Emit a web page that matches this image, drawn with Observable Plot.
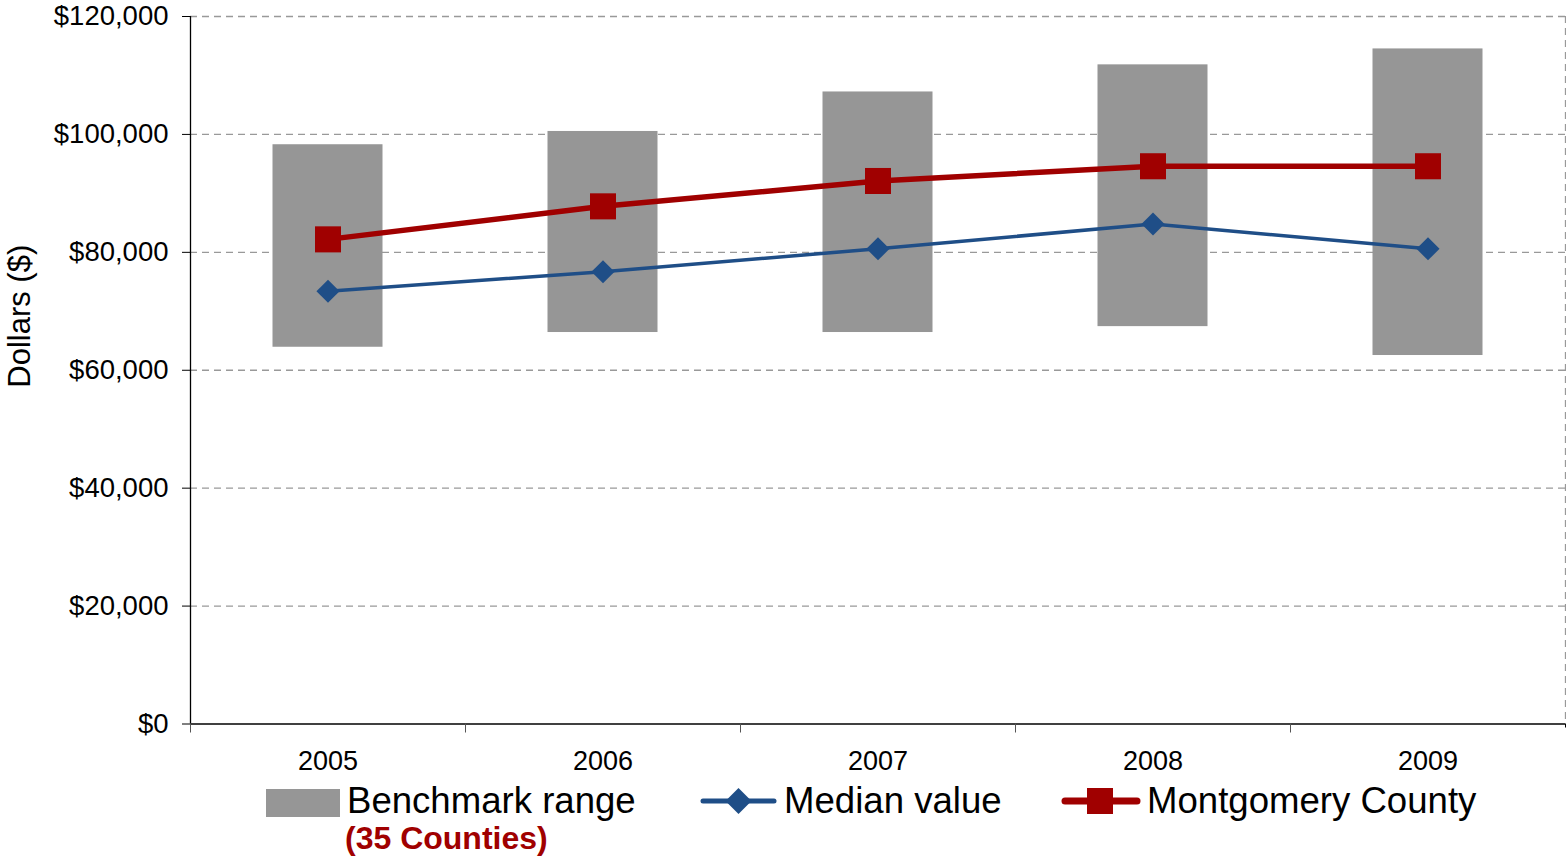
<!DOCTYPE html>
<html><head><meta charset="utf-8">
<script src="https://cdn.jsdelivr.net/npm/d3@7"></script>
<script src="https://cdn.jsdelivr.net/npm/@observablehq/plot@0.6"></script>
<style>
body{margin:0;background:#fff;font-family:"Liberation Sans",Arial,sans-serif;}
#wrap{position:relative;width:1566px;height:857px;overflow:hidden;}
#chart{position:absolute;left:0;top:0;}
.leg{position:absolute;font-size:36.6px;color:#000;white-space:nowrap;line-height:1;}
.note{position:absolute;font-size:32px;font-weight:bold;color:#a00000;white-space:nowrap;line-height:1;}
.sw{position:absolute;}
</style></head><body><div id="wrap"><div id="chart"></div></div>
<script>
const years = ["2005","2006","2007","2008","2009"];
const rangeLow = [63900, 66400, 66400, 67400, 62500];
const rangeHigh = [98250, 100500, 107200, 111800, 114500];
const medianValue = [73400, 76700, 80600, 84800, 80600];
const montgomery = [82200, 87800, 92100, 94600, 94600];
const yTicks = [0, 20000, 40000, 60000, 80000, 100000, 120000];
const yLabel = "Dollars ($)";
const legendLabels = ["Benchmark range", "Median value", "Montgomery County"];
const legendNote = "(35 Counties)";

const GRAY = "#969696", BLUE = "#1f4e87", RED = "#a00000";

const rows = years.map((y, i) => ({year: y, low: rangeLow[i], high: rangeHigh[i], median: medianValue[i], mont: montgomery[i]}));
const bw = (1565 - 190) / years.length;

const plot = Plot.plot({
  width: 1566, height: 780,
  marginLeft: 190, marginRight: 1, marginTop: 16, marginBottom: 56.5,
  style: {fontFamily: '"Liberation Sans", Arial, sans-serif', fontSize: "27px", color: "#000", background: "transparent", overflow: "visible"},
  x: {type: "band", domain: years, padding: 0},
  y: {domain: [0, 120000]},
  marks: [
    Plot.gridY(yTicks.filter(d => d > 0), {stroke: "#999", strokeOpacity: 1, strokeDasharray: "7,5", strokeWidth: 1.3}),
    Plot.ruleX([years[years.length - 1]], {dx: bw / 2, stroke: "#999", strokeDasharray: "7,5", strokeWidth: 1.3}),
    Plot.barY(rows, {x: "year", y1: "low", y2: "high", fill: GRAY, insetLeft: 82.5, insetRight: 82.5}),
    Plot.line(rows, {x: "year", y: "median", stroke: BLUE, strokeWidth: 3.5}),
    Plot.dot(rows, {x: "year", y: "median", symbol: "diamond2", r: 10.4, fill: BLUE, stroke: null}),
    Plot.line(rows, {x: "year", y: "mont", stroke: RED, strokeWidth: 5.5}),
    Plot.dot(rows, {x: "year", y: "mont", symbol: "square", r: 14.7, fill: RED, stroke: null}),
    Plot.ruleY([0], {stroke: "#000", strokeWidth: 1.3}),
    Plot.ruleX([years[0]], {dx: -bw / 2, stroke: "#000", strokeWidth: 1.3}),
    Plot.axisY({ticks: yTicks, tickFormat: d => "$" + d3.format(",")(d), tickSize: 8, tickPadding: 14, label: null, fontSize: 27.5, stroke: "#000"}),
    Plot.axisX({tickSize: 9, tickFormat: () => "", dx: -bw / 2, label: null, stroke: "#555"}),
    Plot.axisX({ticks: [years[years.length - 1]], tickSize: 4, tickFormat: () => "", dx: bw / 2, label: null, stroke: "#000"}),
    Plot.axisX({tickSize: 0, tickPadding: 27, label: null, fontSize: 27}),
    Plot.text([yLabel], {frameAnchor: "left", text: d => d, textAnchor: "middle", rotate: -90, dx: -170, dy: -54, fontSize: 31, fill: "#000"})
  ]
});
document.getElementById("chart").appendChild(plot);

// Legend (HTML below the plot area)
const wrap = document.getElementById("wrap");
function add(html) { const t = document.createElement("div"); t.innerHTML = html; const el = t.firstElementChild; wrap.appendChild(el); return el; }
add(`<div class="sw" style="left:266px;top:789px;width:74px;height:28px;background:${GRAY}"></div>`);
add(`<div class="leg" style="left:347px;top:783px">${legendLabels[0]}</div>`);
add(`<div class="note" style="left:345px;top:822px">${legendNote}</div>`);
add(`<svg class="sw" style="left:699px;top:786px" width="80" height="30"><line x1="4" y1="15" x2="75" y2="15" stroke="${BLUE}" stroke-width="5" stroke-linecap="round"/><path d="M39.5,2 L52.5,15 L39.5,28 L26.5,15Z" fill="${BLUE}"/></svg>`);
add(`<div class="leg" style="left:784px;top:783px">${legendLabels[1]}</div>`);
add(`<svg class="sw" style="left:1060px;top:786px" width="82" height="30"><line x1="5" y1="15" x2="77" y2="15" stroke="${RED}" stroke-width="7" stroke-linecap="round"/><rect x="27" y="2" width="26" height="26" fill="${RED}"/></svg>`);
add(`<div class="leg" style="left:1147px;top:783px">${legendLabels[2]}</div>`);
</script>
</body></html>
